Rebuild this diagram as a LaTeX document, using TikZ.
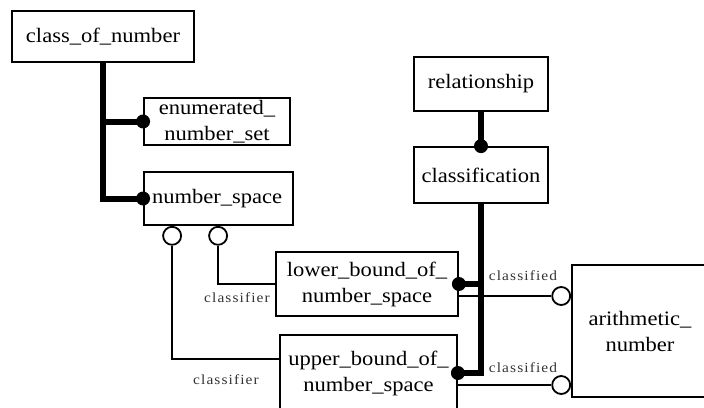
\documentclass[tikz,border=0pt]{standalone}
\usepackage{fontspec}
\setmainfont{Liberation Serif}[FakeStretch=1.1]
\usetikzlibrary{positioning,calc}
\tikzset{
  entity/.style={draw=black, line width=1.8pt, fill=white, inner sep=1pt,
                 align=center, font=\fontsize{20.5}{26}\selectfont},
  thickline/.style={line width=6pt},
  thinline/.style={line width=1.8pt},
  dot/.style={circle, fill=black, inner sep=0pt, minimum size=14pt},
  ring/.style={circle, draw=black, line width=1.8pt, fill=white, inner sep=0pt, minimum size=18pt},
  rolelabel/.style={font=\fontsize{14}{16}\selectfont\addfontfeatures{LetterSpace=8},
                    text=black!80, inner sep=0pt}
}

\begin{document}
\begin{tikzpicture}[x=1pt, y=-1pt]
  \useasboundingbox (0,0) rectangle (704,407);
  \clip (0,0) rectangle (704,407);

  % Entities
  \node[entity, minimum width=182pt, minimum height=51pt] (cls) at (103,36.5) {class\_of\_number};
  \node[entity, minimum width=146pt, minimum height=47pt] (enumset) at (217,121.5) {enumerated\_\\number\_set};
  \node[entity, minimum width=149pt, minimum height=53pt, text width=133pt, align=left,
        inner xsep=8pt] (numspace) at (218.5,198.5) {number\_space};
  \node[entity, minimum width=182pt, minimum height=64pt] (lowerb) at (367,284) {lower\_bound\_of\_\\number\_space};
  \node[entity, minimum width=177pt, minimum height=76pt] (upperb) at (368.5,373) {upper\_bound\_of\_\\number\_space};
  \node[entity, minimum width=134pt, minimum height=54pt] (rel) at (481,84) {relationship};
  \node[entity, minimum width=134pt, minimum height=56pt] (classif) at (481,175) {classification};
  \node[entity, minimum width=136pt, minimum height=132pt] (arith) at (640,331) {arithmetic\_\\number};

  % Open rings
  \node[ring, anchor=north] (ringa) at ([xshift=29pt]numspace.south west) {};
  \node[ring, anchor=north] (ringb) at ([xshift=75pt]numspace.south west) {};
  \node[ring, anchor=east] (ringc) at ([yshift=35pt]arith.west) {};
  \node[ring, anchor=east] (ringd) at ([yshift=-54pt]arith.west) {};

  % Thick relations
  \draw[thickline] (cls.south) |- (enumset.west);
  \draw[thickline] (cls.south) |- (numspace.west);
  \draw[thickline] (rel.south) -- (classif.north);
  \draw[thickline] (classif.south) |- (lowerb.east);
  \draw[thickline] (classif.south) |- (upperb.east);

  % Thin relations
  \draw[thinline] (ringb.south) |- (lowerb.west);
  \draw[thinline] (ringa.south) |- ([yshift=14pt]upperb.west);
  \draw[thinline] ([yshift=-12pt]lowerb.east) -- (ringc.west);
  \draw[thinline] ([yshift=-12pt]upperb.east) -- (ringd.west);

  % Dots
  \node[dot] (dotenum) at (enumset.west) {};
  \node[dot] (dotspace) at (numspace.west) {};
  \node[dot] (dotclassif) at (classif.north) {};
  \node[dot] (dotlower) at (lowerb.east) {};
  \node[dot] (dotupper) at (upperb.east) {};

  % Role labels
  \node[rolelabel] (lblclassifiera) at (237,298) {classifier};
  \node[rolelabel] (lblclassifierb) at (226,380) {classifier};
  \node[rolelabel] (lblclassifieda) at (523,276) {classified};
  \node[rolelabel] (lblclassifiedb) at (523,368) {classified};
\end{tikzpicture}
\end{document}
